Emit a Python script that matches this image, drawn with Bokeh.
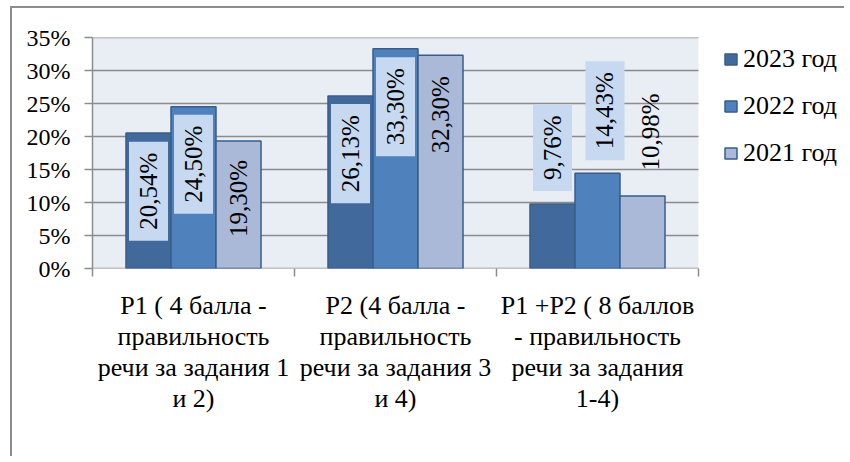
import numpy as np
from bokeh.plotting import figure
from bokeh.models import (ColumnDataSource, Range1d, FixedTicker, NumeralTickFormatter,
                          Legend, LegendItem)
from bokeh.core.properties import value
from bokeh.embed import file_html
from bokeh.resources import INLINE

# ---------------- data ----------------
categories = [
    "Р1 ( 4 балла -\nправильность\nречи за задания 1\nи 2)",
    "Р2 (4 балла -\nправильность\nречи за задания 3\nи 4)",
    "Р1 +Р2 ( 8 баллов\n- правильность\nречи за задания\n1-4)",
]
series_names = ["2023 год", "2022 год", "2021 год"]
values_2023 = [0.2054, 0.2613, 0.0976]
values_2022 = [0.2450, 0.3330, 0.1443]
values_2021 = [0.1930, 0.3230, 0.1098]
# where each data label sits: height (value units) and sideways nudge (category units)
label_y_2023 = [0.117, 0.174, 0.183]
label_y_2022 = [0.158, 0.245, 0.239]
label_y_2021 = [0.106, 0.233, 0.207]
label_dx_2023 = [0.0, 0.0, 0.0]
label_dx_2022 = [0.0, 0.0, 0.037]
label_dx_2021 = [0.0, 0.0, 0.04]
y_ticks = [0.0, 0.05, 0.10, 0.15, 0.20, 0.25, 0.30, 0.35]

# ---------------- style / layout ----------------
FONT = "Liberation Serif, Times New Roman, DejaVu Serif, serif"
fills = ["#41699B", "#4F81BD", "#AAB9D8"]
edge = "#385D8A"
boxed = [True, True, False]
bar_w = 0.2228
offsets = [-bar_w, 0.0, bar_w]
grey = "#8C8C8C"
W, H = 834, 450
BL, BT, BB = 80, 29, 190
PLOT_W = 606                      # width in px of the shaded plot area
n = len(categories)
x_end = n * (W - BL) / PLOT_W     # frame extends to the right to hold the legend
y_max = y_ticks[-1]

p = figure(width=W, height=H, x_range=Range1d(0, x_end), y_range=Range1d(0, y_max),
           output_backend="svg", toolbar_location=None,
           min_border_left=BL, min_border_right=0, min_border_top=BT, min_border_bottom=BB,
           background_fill_color="white", border_fill_color="white",
           outline_line_color=None,
           styles={"margin-left": "10px", "margin-top": "6px",
                   "border-left": "2px solid #8C8C8C",
                   "border-top": "2px solid #8C8C8C"})

# shaded plot area + gridlines
p.quad(left=[0], right=[n], bottom=[0], top=[y_max], fill_color="#E9EDF4", line_color=None)
p.segment(x0=[0] * len(y_ticks), x1=[n] * len(y_ticks), y0=y_ticks, y1=y_ticks,
          line_color=grey, line_width=1.5)

series_vals = [values_2023, values_2022, values_2021]
series_lab_y = [label_y_2023, label_y_2022, label_y_2021]
series_lab_dx = [label_dx_2023, label_dx_2022, label_dx_2021]
items = []
for k, (name, vals, ly, ldx) in enumerate(zip(series_names, series_vals, series_lab_y, series_lab_dx)):
    xs = [i + 0.5 + offsets[k] for i in range(n)]
    src = ColumnDataSource(dict(x=xs, top=vals, ly=ly,
                                lx=[x + d for x, d in zip(xs, ldx)],
                                lab=[f"{v*100:.2f}%".replace(".", ",") for v in vals]))
    r = p.vbar(x="x", top="top", width=bar_w, source=src, fill_color=fills[k],
               line_color=edge, line_width=1.5)
    items.append(LegendItem(label=name, renderers=[r]))
    kw = {}
    if boxed[k]:
        kw = dict(background_fill_color="#C6D9F1",
                  padding=dict(left=11, right=11, top=6, bottom=6))
    p.text(x="lx", y="ly", text="lab", source=src, angle=np.pi / 2,
           text_align="center", text_baseline="middle", text_color="black",
           text_font=value(FONT), text_font_size="25px", **kw)

# axes
p.yaxis.ticker = FixedTicker(ticks=y_ticks)
p.yaxis.formatter = NumeralTickFormatter(format="0%")
p.yaxis.major_tick_out = 8
p.yaxis.major_tick_in = 0
p.yaxis.minor_tick_line_color = None
p.yaxis.axis_line_color = grey
p.yaxis.axis_line_width = 1.5
p.yaxis.major_tick_line_color = grey
p.yaxis.major_tick_line_width = 1.5
p.yaxis.major_label_text_font = FONT
p.yaxis.major_label_text_font_size = "24px"
p.yaxis.major_label_text_color = "black"
p.yaxis.major_label_standoff = 14

p.xaxis.ticker = FixedTicker(ticks=[i + 0.5 for i in range(n)], minor_ticks=list(range(n + 1)))
p.xaxis.major_label_overrides = {i + 0.5: c for i, c in enumerate(categories)}
p.xaxis.major_tick_line_color = None
p.xaxis.major_tick_out = 0
p.xaxis.major_tick_in = 0
p.xaxis.minor_tick_line_color = grey
p.xaxis.minor_tick_line_width = 1.5
p.xaxis.minor_tick_out = 8
p.xaxis.minor_tick_in = 0
p.xaxis.axis_line_color = None
p.xaxis.major_label_text_font = FONT
p.xaxis.major_label_text_font_size = "26px"
p.xaxis.major_label_text_color = "black"
p.xaxis.major_label_text_line_height = 1.07
p.xaxis.major_label_standoff = 14

p.xgrid.visible = False
p.ygrid.visible = False

legend = Legend(items=items, location=(631, 100), orientation="vertical",
                padding=0, margin=0, spacing=17, glyph_width=15, glyph_height=14,
                label_height=29, label_standoff=5,
                label_text_font=FONT, label_text_font_size="26px",
                label_text_color="black",
                border_line_color=None, background_fill_alpha=0)
p.add_layout(legend)

open("out.html", "w").write(file_html(p, INLINE))
